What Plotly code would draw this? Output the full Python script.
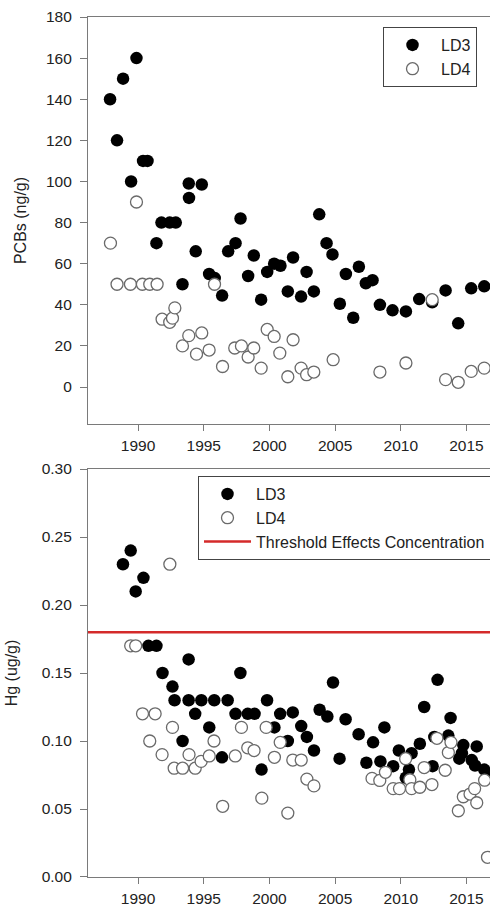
import plotly.graph_objects as go

# ---------------- data ----------------
pcb_ld3_year = [1987.87, 1988.40, 1988.86, 1989.47, 1989.88, 1990.38, 1990.72, 1991.40, 1991.78,
                1992.41, 1992.87, 1993.38, 1993.86, 1993.88, 1994.39, 1994.85, 1995.41, 1995.84,
                1996.40, 1996.86, 1997.42, 1997.80, 1998.38, 1998.81, 1999.37, 1999.83, 2000.36,
                2000.84, 2001.40, 2001.80, 2002.41, 2002.83, 2003.38, 2003.79, 2004.35, 2004.80,
                2005.36, 2005.82, 2006.38, 2006.81, 2007.34, 2007.85, 2008.41, 2009.37, 2010.39,
                2011.40, 2012.39, 2013.41, 2014.37, 2015.36, 2016.35]
pcb_ld3 = [140, 120, 150, 100, 160, 110, 110, 70, 80,
           80, 80, 50, 99, 92, 66, 98.5, 55, 53,
           44.5, 66, 70, 82, 54, 64, 42.5, 56, 60,
           59, 46.5, 63, 44, 56, 46.5, 84, 70, 64.5,
           40.5, 55, 33.7, 58.5, 50.5, 52, 40, 37.3, 36.8,
           42.8, 41.2, 47, 31, 48, 49]

pcb_ld4_year = [1987.90, 1988.40, 1989.42, 1989.88, 1990.33, 1990.89, 1991.45, 1991.83, 1992.41,
                1992.62, 1992.80, 1993.38, 1993.86, 1994.45, 1994.85, 1995.41, 1995.82, 1996.43,
                1997.36, 1997.87, 1998.38, 1998.81, 1999.37, 1999.83, 2000.36, 2000.79, 2001.40,
                2001.80, 2002.41, 2002.83, 2003.38, 2004.85, 2008.41, 2010.39, 2012.39, 2013.41,
                2014.37, 2015.36, 2016.35]
pcb_ld4 = [70, 50, 50, 90, 50, 50, 50, 33, 31.5,
           33.5, 38.5, 20, 25, 16, 26.3, 18, 50, 10,
           19, 20, 14.6, 19, 9.2, 28, 24.6, 16.5, 5,
           23, 9.2, 6, 7.3, 13.3, 7.3, 11.7, 42.5, 3.6,
           2.3, 7.6, 9.2]

hg_ld3_year = [1988.85, 1989.44, 1989.82, 1990.41, 1990.79, 1991.40, 1991.86, 1992.62, 1992.78,
               1993.39, 1993.85, 1993.85, 1994.35, 1994.82, 1995.42, 1995.80, 1996.39, 1996.82,
               1997.42, 1997.79, 1998.35, 1998.87, 1999.40, 1999.82, 2000.38, 2000.82, 2001.40,
               2001.78, 2002.42, 2002.85, 2003.39, 2003.82, 2004.41, 2004.84, 2005.34, 2005.80,
               2006.79, 2007.38, 2007.89, 2008.45, 2008.75, 2009.42, 2009.85, 2010.38, 2010.62,
               2010.82, 2011.45, 2011.78, 2012.42, 2012.55, 2012.80, 2013.62, 2013.79, 2014.45,
               2014.65, 2014.76, 2015.40, 2015.65, 2015.78, 2016.35, 2016.75]
hg_ld3 = [0.23, 0.24, 0.21, 0.22, 0.17, 0.17, 0.15, 0.14, 0.13,
          0.10, 0.16, 0.13, 0.12, 0.13, 0.11, 0.13, 0.088, 0.13,
          0.12, 0.15, 0.12, 0.12, 0.079, 0.13, 0.11, 0.12, 0.10,
          0.121, 0.111, 0.103, 0.093, 0.123, 0.118, 0.143, 0.087, 0.116,
          0.105, 0.084, 0.099, 0.085, 0.11, 0.0815, 0.093, 0.073, 0.079,
          0.091, 0.098, 0.125, 0.0815, 0.103, 0.145, 0.104, 0.117, 0.087,
          0.091, 0.097, 0.086, 0.082, 0.096, 0.079, 0.075]

hg_ld4_year = [1989.44, 1989.82, 1990.34, 1990.89, 1991.30, 1991.83, 1992.42, 1992.62, 1992.75,
               1993.39, 1993.88, 1994.35, 1994.80, 1995.42, 1995.78, 1996.44, 1997.40, 1997.87,
               1998.35, 1998.83, 1999.42, 1999.75, 2000.38, 2000.82, 2001.40, 2001.78, 2002.42,
               2002.85, 2003.39, 2007.81, 2008.40, 2008.83, 2009.42, 2009.90, 2010.37, 2010.69,
               2010.82, 2011.45, 2011.78, 2012.37, 2012.75, 2013.38, 2013.62, 2013.82, 2014.38,
               2014.76, 2015.27, 2015.62, 2015.78, 2016.38, 2016.60]
hg_ld4 = [0.17, 0.17, 0.12, 0.10, 0.12, 0.09, 0.23, 0.11, 0.08,
          0.08, 0.09, 0.08, 0.085, 0.089, 0.10, 0.052, 0.089, 0.11,
          0.095, 0.093, 0.058, 0.11, 0.088, 0.099, 0.047, 0.086, 0.086,
          0.072, 0.067, 0.0725, 0.071, 0.077, 0.065, 0.065, 0.087, 0.0715,
          0.065, 0.066, 0.0805, 0.068, 0.102, 0.0785, 0.0915, 0.099, 0.0487,
          0.059, 0.061, 0.065, 0.0546, 0.0712, 0.0145]

threshold_hg = 0.18
x_range = [1986.19, 2016.79]
x_ticks = [1990, 1995, 2000, 2005, 2010, 2015]
pcb_ticks = [0, 20, 40, 60, 80, 100, 120, 140, 160, 180]
hg_ticks = [0.00, 0.05, 0.10, 0.15, 0.20, 0.25, 0.30]

# ---------------- style ----------------
FONT = "Liberation Sans, Arial, sans-serif"
TXT = "#222222"
AX = "#7a7a7a"
filled = dict(symbol="circle", size=12.5, color="black", line=dict(width=0))
hollow = dict(symbol="circle", size=12, color="white", line=dict(width=1.3, color="#6a6a6a"))

fig = go.Figure()
fig.add_trace(go.Scatter(x=pcb_ld3_year, y=pcb_ld3, mode="markers", name="LD3",
                         marker=filled, xaxis="x", yaxis="y", legend="legend"))
fig.add_trace(go.Scatter(x=pcb_ld4_year, y=pcb_ld4, mode="markers", name="LD4",
                         marker=hollow, xaxis="x", yaxis="y", legend="legend"))
fig.add_trace(go.Scatter(x=hg_ld3_year, y=hg_ld3, mode="markers", name="LD3",
                         marker=filled, xaxis="x2", yaxis="y2", legend="legend2"))
fig.add_trace(go.Scatter(x=hg_ld4_year, y=hg_ld4, mode="markers", name="LD4",
                         marker=hollow, xaxis="x2", yaxis="y2", legend="legend2"))
fig.add_trace(go.Scatter(x=x_range, y=[threshold_hg, threshold_hg], mode="lines",
                         name="Threshold Effects Concentration",
                         line=dict(color="#d42a2a", width=2.6),
                         xaxis="x2", yaxis="y2", legend="legend2"))

xcommon = dict(range=x_range, tickvals=x_ticks, ticks="outside", ticklen=6, tickwidth=1,
               tickcolor=AX, showline=True, linecolor=AX, linewidth=1.2, mirror=True,
               showgrid=False, zeroline=False, ticklabelstandoff=1,
               tickfont=dict(family=FONT, size=15.5, color=TXT))
ycommon = dict(ticks="outside", ticklen=7, tickwidth=1, tickcolor=AX, showline=True,
               linecolor=AX, linewidth=1.2, mirror=False, showgrid=False, zeroline=False,
               ticklabelstandoff=5, tickfont=dict(family=FONT, size=15.5, color=TXT))

fig.update_layout(
    width=490, height=907,
    margin=dict(l=88, r=0, t=17, b=30, autoexpand=False),
    paper_bgcolor="white", plot_bgcolor="white",
    font=dict(family=FONT, size=16, color=TXT),
    xaxis=dict(domain=[0, 1], anchor="y", **xcommon),
    yaxis=dict(domain=[0.5267, 1], anchor="x", range=[-18, 180], tickvals=pcb_ticks,
               title=dict(text="PCBs (ng/g)", font=dict(family=FONT, size=16, color=TXT), standoff=15),
               **ycommon),
    xaxis2=dict(domain=[0, 1], anchor="y2", **xcommon),
    yaxis2=dict(domain=[0, 0.4744], anchor="x2", range=[0, 0.30], tickvals=hg_ticks,
                tickformat=".2f",
                title=dict(text="Hg (ug/g)", font=dict(family=FONT, size=16, color=TXT), standoff=20),
                **ycommon),
    legend=dict(x=(383 - 88) / 402, y=(877 - 27) / 860, xanchor="left", yanchor="top",
                bordercolor="#444444", borderwidth=1, bgcolor="white", itemwidth=47,
                font=dict(family=FONT, size=16, color=TXT), tracegroupgap=0),
    legend2=dict(x=(198 - 88) / 402, y=(877 - 476) / 860, xanchor="left", yanchor="top",
                 bordercolor="#444444", borderwidth=1, bgcolor="white", itemwidth=47,
                 font=dict(family=FONT, size=16, color=TXT), tracegroupgap=0),
    showlegend=True,
)

fig.write_html("out.html")
